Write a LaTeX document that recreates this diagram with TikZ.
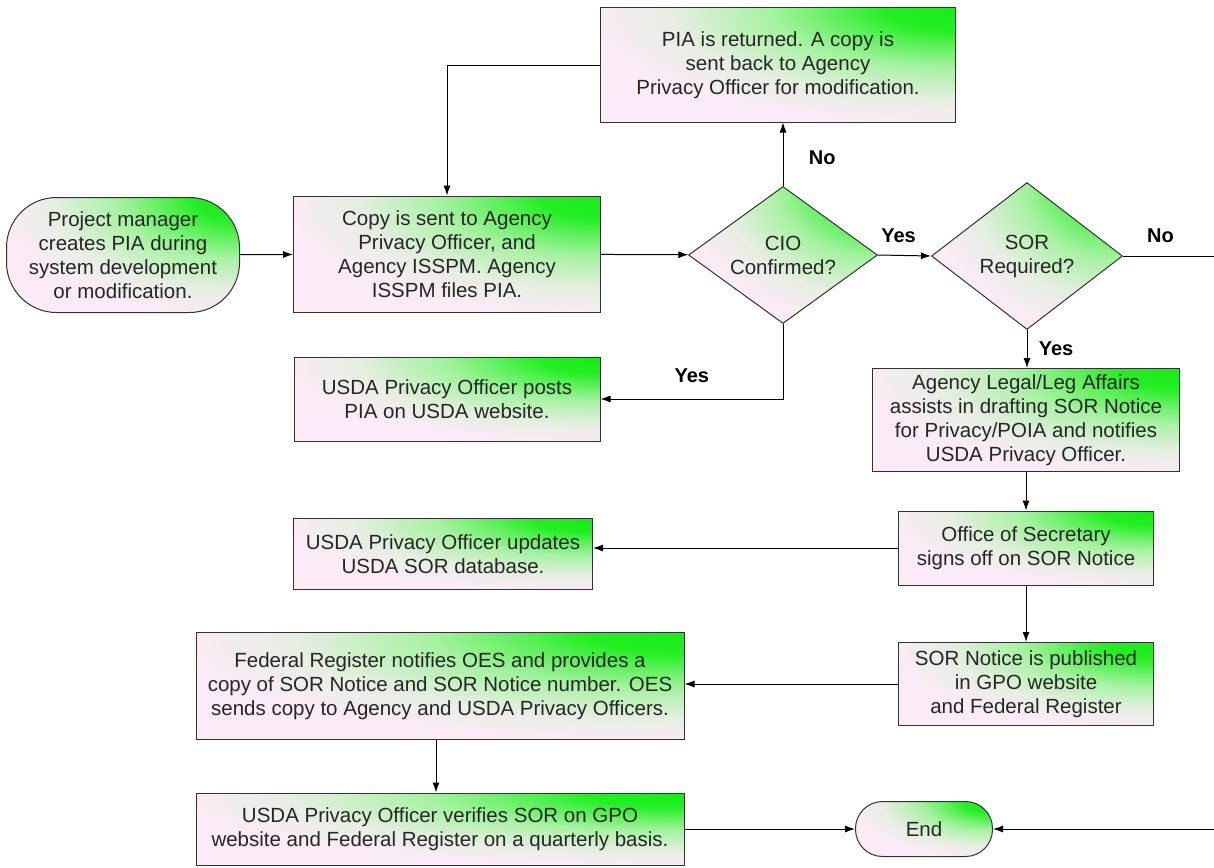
\documentclass[tikz,border=0pt]{standalone}
\usepackage{fontspec}
\setmainfont{Liberation Sans}
\usetikzlibrary{shapes.geometric,arrows.meta,calc}

\definecolor{boxpink}{RGB}{251,235,247}
\definecolor{boxmid}{RGB}{230,238,226}
\definecolor{boxlight}{RGB}{165,242,160}
\definecolor{boxgreen}{RGB}{22,238,22}
\definecolor{boxline}{RGB}{50,50,50}

\pgfdeclareradialshading{cornerglow}{\pgfpoint{0bp}{0bp}}{color(0bp)=(boxgreen); color(2.5bp)=(boxgreen!90!boxlight); color(4bp)=(boxgreen!55!boxlight); color(6.5bp)=(boxlight); color(10bp)=(boxmid); color(13bp)=(boxpink); color(50bp)=(boxpink)}

\tikzset{
  shadedbox/.style={draw=boxline, line width=1pt, fill=boxpink,
    path picture={\shade[shading=cornerglow] let
      \p1=($(path picture bounding box.north east)-(path picture bounding box.south west)$) in
      (path picture bounding box.north east) ellipse [x radius=2*\x1, y radius=2*\y1];},
    align=center, text=black!85,
    font=\fontsize{20.5}{24}\selectfont, inner sep=2pt},
  procbox/.style={shadedbox, rectangle},
  termbox/.style={shadedbox, rectangle, rounded corners=#1},
  decbox/.style={shadedbox, diamond, aspect=1.38, inner sep=0pt},
  answer/.style={font=\bfseries\fontsize{20}{24}\selectfont},
  flow/.style={line width=1pt, ->}
}

\begin{document}
\begin{tikzpicture}[x=1pt, y=-1pt, >={Latex[length=10pt,width=7pt]}]
\useasboundingbox (0,0) rectangle (1214,867);

\node[termbox=50pt, minimum width=233pt, minimum height=115pt] (start) at (123,255) {Project manager\\creates PIA during\\system development\\or modification.};
\node[procbox, minimum width=307pt, minimum height=116pt] (copy) at (447,254) {Copy is sent to Agency\\Privacy Officer, and\\Agency ISSPM. Agency\\ISSPM files PIA.};
\node[procbox, minimum width=355pt, minimum height=114pt] (returned) at (778,65) {PIA is returned. A copy is\\sent back to Agency\\Privacy Officer for modification.};
\node[decbox, minimum width=189pt, minimum height=137pt] (cio) at (783,255) {CIO\\Confirmed?};
\node[decbox, minimum width=191pt, minimum height=147pt] (sor) at (1027,256) {SOR\\Required?};
\node[procbox, minimum width=306pt, minimum height=84pt] (posts) at (447,399) {USDA Privacy Officer posts\\PIA on USDA website.};
\node[procbox, minimum width=307pt, minimum height=103pt] (legal) at (1026,420) {Agency Legal/Leg Affairs\\assists in drafting SOR Notice\\for Privacy/POIA and notifies\\USDA Privacy Officer.};
\node[procbox, minimum width=255pt, minimum height=74pt] (secretary) at (1026,548) {Office of Secretary\\signs off on SOR Notice};
\node[procbox, minimum width=299pt, minimum height=71pt] (updates) at (443,554) {USDA Privacy Officer updates\\USDA SOR database.};
\node[procbox, minimum width=255pt, minimum height=83pt] (published) at (1026,684) {SOR Notice is published\\in GPO website\\and Federal Register};
\node[procbox, minimum width=488pt, minimum height=107pt] (fedreg) at (440,686) {Federal Register notifies OES and provides a\\copy of SOR Notice and SOR Notice number. OES\\sends copy to Agency and USDA Privacy Officers.};
\node[procbox, minimum width=488pt, minimum height=72pt] (verifies) at (440,829) {USDA Privacy Officer verifies SOR on GPO\\website and Federal Register on a quarterly basis.};
\node[termbox=27pt, minimum width=137pt, minimum height=55pt] (end) at (924,829) {End};

\coordinate (noexit) at (1214,256);
\coordinate (endentry) at (1214,829);

\draw[flow] (start) -- (copy);
\draw[flow] (copy) -- (cio);
\draw[flow] (cio.north) -- (returned.south -| cio.north) node[answer, pos=0.45, right=22pt] {No};
\draw[flow] (returned.west) -| (copy.north);
\draw[flow] (cio.east) -- (sor.west) node[answer, midway, above=9pt, xshift=-6pt] {Yes};
\draw[line width=1pt] (sor.east) -- (noexit) node[answer, midway, above=9pt, xshift=-8pt] {No};
\draw[flow] (sor.south) -- (legal.north -| sor.south) node[answer, midway, right=8pt] {Yes};
\draw[flow] (cio.south) |- (posts.east) node[answer, pos=0.75, above=12pt] {Yes};
\draw[flow] (legal) -- (secretary);
\draw[flow] (secretary.west) -- (secretary.west -| updates.east);
\draw[flow] (secretary) -- (published);
\draw[flow] (published.west) -- (published.west -| fedreg.east);
\draw[flow] (fedreg.south -| 436,0) -- (verifies.north -| 436,0);
\draw[flow] (verifies) -- (end);
\draw[flow] (endentry) -- (end);
\end{tikzpicture}
\end{document}
